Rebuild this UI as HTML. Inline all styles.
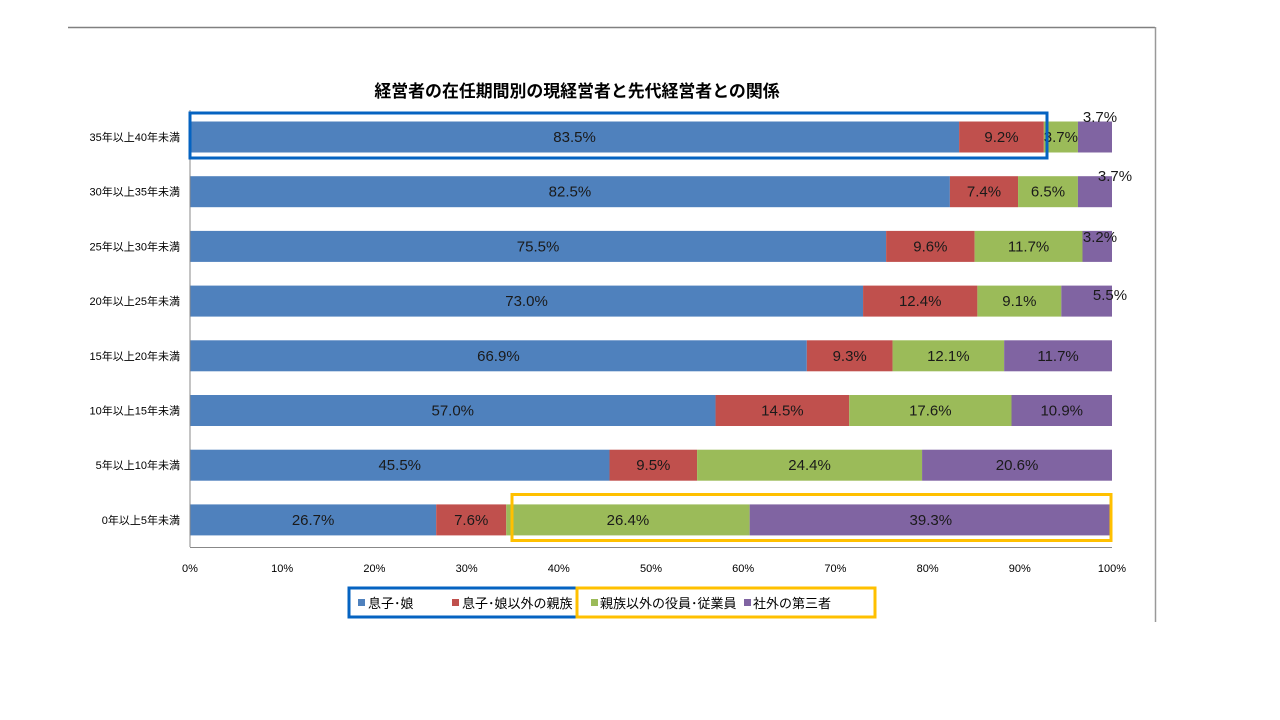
<!DOCTYPE html>
<html><head><meta charset="utf-8">
<style>
html,body{margin:0;padding:0;background:#fff;}
svg{display:block;font-family:"Liberation Sans","Noto Sans CJK JP",sans-serif;}
</style></head>
<body>
<svg id="c" width="1280" height="720" viewBox="0 0 1280 720" xmlns="http://www.w3.org/2000/svg">
<line x1="68" y1="27.5" x2="1155" y2="27.5" stroke="#808080" stroke-width="1.5"/>
<line x1="1155.5" y1="27" x2="1155.5" y2="622" stroke="#999" stroke-width="1.5"/>
<text x="577" y="97" font-size="16.9" font-weight="bold" text-anchor="middle" fill="#000">経営者の在任期間別の現経営者と先代経営者との関係</text>
<g id="bars"></g>
<line x1="190" y1="110" x2="190" y2="547" stroke="#888" stroke-width="1"/>
<line x1="190" y1="547.5" x2="1112" y2="547.5" stroke="#888" stroke-width="1"/>
<g id="ticks" font-size="11" text-anchor="middle" fill="#000"></g>
<rect x="190" y="113" width="857" height="45" fill="none" stroke="#0563C1" stroke-width="3"/>
<rect x="512" y="494.5" width="599" height="46" fill="none" stroke="#FFC000" stroke-width="3"/>
<rect x="349" y="588" width="228" height="29" fill="none" stroke="#0563C1" stroke-width="3"/>
<rect x="577" y="588" width="298" height="29" fill="none" stroke="#FFC000" stroke-width="3"/>
<g font-size="13" fill="#000">
<rect x="358" y="599" width="7" height="7" fill="#4F81BD"/><text x="368" y="608">息子･娘</text>
<rect x="452" y="599" width="7" height="7" fill="#C0504D"/><text x="462" y="608">息子･娘以外の親族</text>
<rect x="591" y="599" width="7" height="7" fill="#9BBB59"/><text x="600" y="608">親族以外の役員･従業員</text>
<rect x="744" y="599" width="7" height="7" fill="#8064A2"/><text x="753" y="608">社外の第三者</text>
</g>
</svg>
<script>
var data=[["35年以上40年未満",83.5,9.2,3.7,3.7],["30年以上35年未満",82.5,7.4,6.5,3.7],["25年以上30年未満",75.5,9.6,11.7,3.2],["20年以上25年未満",73.0,12.4,9.1,5.5],["15年以上20年未満",66.9,9.3,12.1,11.7],["10年以上15年未満",57.0,14.5,17.6,10.9],["5年以上10年未満",45.5,9.5,24.4,20.6],["0年以上5年未満",26.7,7.6,26.4,39.3]];
var cols=["#4F81BD","#C0504D","#9BBB59","#8064A2"];
var outside=[[1100,122],[1115,181],[1100,242],[1110,300]];
var s="";var x0=190,W=922;
data.forEach(function(r,i){
 var yc=137+i*54.7,y=yc-15.5,h=31;
 s+='<text x="180" y="'+(yc+4)+'" font-size="11" text-anchor="end" fill="#000">'+r[0]+'</text>';
 var tot=r[1]+r[2]+r[3]+r[4],x=x0;
 for(var k=1;k<=4;k++){
  var w=r[k]/tot*W;
  s+='<rect x="'+x+'" y="'+y+'" width="'+w+'" height="'+h+'" fill="'+cols[k-1]+'"/>';
  var lab=r[k].toFixed(1)+'%';
  if(k==4&&i<4){s+='<text x="'+outside[i][0]+'" y="'+outside[i][1]+'" font-size="15" text-anchor="middle" fill="#1a1a1a">'+lab+'</text>';}
  else{s+='<text x="'+(x+w/2)+'" y="'+(yc+5)+'" font-size="15" text-anchor="middle" fill="#1a1a1a">'+lab+'</text>';}
  x+=w;
 }
});
document.getElementById("bars").innerHTML=s;
var t="";for(var p=0;p<=10;p++){t+='<text x="'+(x0+p*92.2)+'" y="572">'+(p*10)+'%</text>';}
document.getElementById("ticks").innerHTML=t;
</script>
</body></html>
